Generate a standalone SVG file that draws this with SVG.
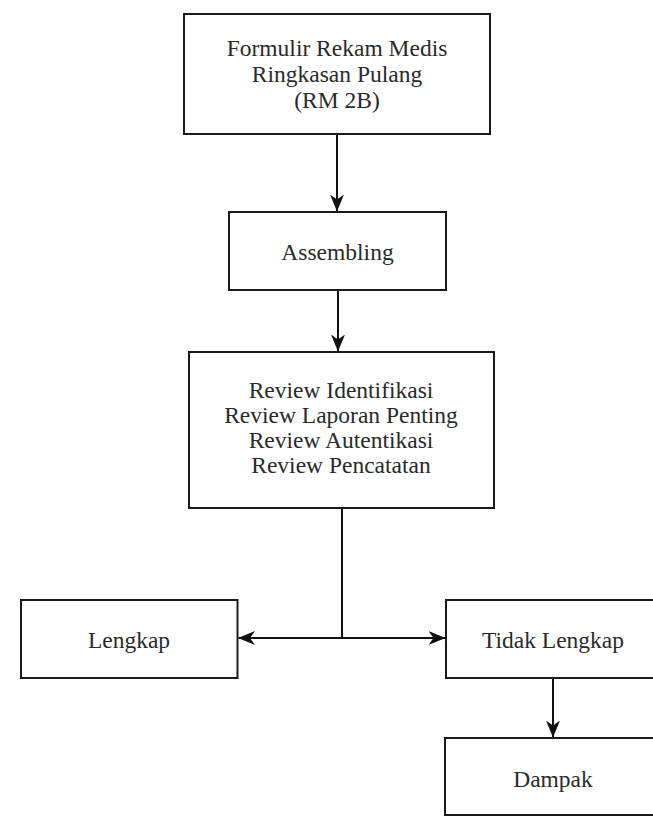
<svg xmlns="http://www.w3.org/2000/svg" width="653" height="816" viewBox="0 0 653 816">
<style>
.box{fill:#fff;stroke:#1a1a1a;stroke-width:2}
.t{font-family:"Liberation Serif","Times New Roman",serif;font-size:23.5px;fill:#2a2a2a;text-anchor:middle}
.c{fill:none;stroke:#111;stroke-width:2}
</style>
<defs>
<marker id="ah" viewBox="0 0 17 14" refX="16.5" refY="7" markerWidth="17" markerHeight="14" markerUnits="userSpaceOnUse" orient="auto">
<path d="M0,0 L17,7 L0,14 L5,7 Z" fill="#111"/>
</marker>
</defs>
<rect width="653" height="816" fill="#fff"/>
<g id="connectors">
<path class="c" d="M337,134 V211" marker-end="url(#ah)"/>
<path class="c" d="M338,290 V351" marker-end="url(#ah)"/>
<path class="c" d="M342,508 V638"/>
<path class="c" d="M342,638 H238.5" marker-end="url(#ah)"/>
<path class="c" d="M342,638 H445" marker-end="url(#ah)"/>
<path class="c" d="M553,678 V737" marker-end="url(#ah)"/>
</g>
<g id="formulir">
<rect class="box" x="184" y="14" width="306" height="120"/>
<text class="t" x="337" y="56">Formulir Rekam Medis</text>
<text class="t" x="337" y="82">Ringkasan Pulang</text>
<text class="t" x="337" y="108">(RM 2B)</text>
</g>
<g id="assembling">
<rect class="box" x="229" y="212" width="217" height="78"/>
<text class="t" x="337.5" y="260">Assembling</text>
</g>
<g id="review">
<rect class="box" x="189" y="352" width="305" height="156"/>
<text class="t" x="341" y="398">Review Identifikasi</text>
<text class="t" x="341" y="423">Review Laporan Penting</text>
<text class="t" x="341" y="448">Review Autentikasi</text>
<text class="t" x="341" y="473">Review Pencatatan</text>
</g>
<g id="lengkap">
<rect class="box" x="21" y="600" width="216.5" height="78"/>
<text class="t" x="129" y="648">Lengkap</text>
</g>
<g id="tidak-lengkap">
<rect class="box" x="446" y="600" width="216" height="78"/>
<text class="t" x="553" y="648">Tidak Lengkap</text>
</g>
<g id="dampak">
<rect class="box" x="445" y="738" width="217" height="77"/>
<text class="t" x="553" y="787">Dampak</text>
</g>
</svg>
